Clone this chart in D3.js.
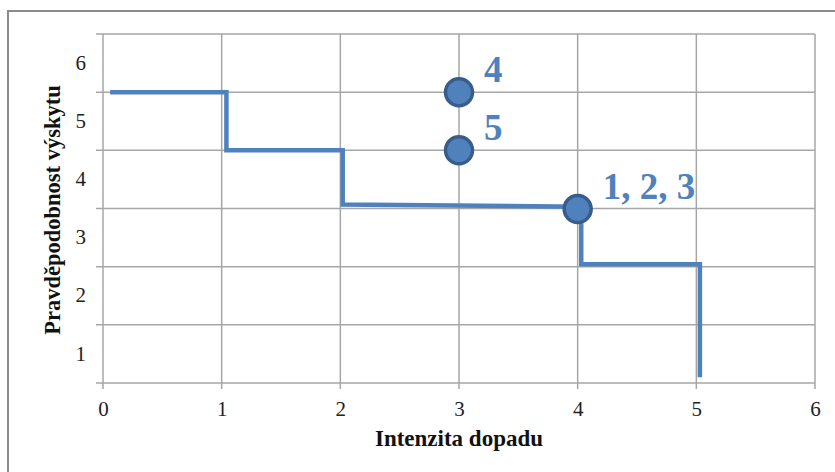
<!DOCTYPE html>
<html>
<head>
  <meta charset="utf-8">
  <script src="https://d3js.org/d3.v7.min.js"></script>
  <style>
    body { margin: 0; background: #fff; }
    text { font-family: "Liberation Serif", "Times New Roman", serif; }
  </style>
</head>
<body>
  <div id="chart"></div>
  <script>
    // data
    var xTicks = [0, 1, 2, 3, 4, 5, 6];
    var yLabels = ["1", "2", "3", "4", "5", "6"];
    var stepX = [0.06, 1.04, 1.04, 2.02, 2.02, 4.03, 4.03, 5.03, 5.03];
    var stepY = [5.0, 5.0, 4.0, 4.0, 3.07, 3.03, 2.04, 2.04, 0.1];
    var pointX = [3, 3, 4];
    var pointY = [5, 4, 2.99];
    var pointLabels = ["4", "5", "1, 2, 3"];

    var W = 835, H = 472;
    var svg = d3.select("#chart").append("svg")
      .attr("width", W)
      .attr("height", H);

    // outer chart border
    svg.append("rect")
      .attr("x", 8).attr("y", 11)
      .attr("width", W + 20).attr("height", H + 20)
      .attr("fill", "none")
      .attr("stroke", "#8c8c8c")
      .attr("stroke-width", 2);

    var x = d3.scaleLinear().domain([0, 6]).range([103, 815]);
    var y = d3.scaleLinear().domain([0, 6]).range([383, 34]);
    var yBand = d3.scaleBand().domain(yLabels).range([y(0), y(6)]);

    // gridlines
    svg.append("g").selectAll("line")
      .data(d3.range(0, 7))
      .enter().append("line")
      .attr("x1", x(0) - 7).attr("x2", x(6))
      .attr("y1", function(d) { return y(d); })
      .attr("y2", function(d) { return y(d); })
      .attr("stroke", "#a6a6a6")
      .attr("stroke-width", 1.5);

    svg.append("g").selectAll("line")
      .data(xTicks)
      .enter().append("line")
      .attr("x1", function(d) { return x(d); })
      .attr("x2", function(d) { return x(d); })
      .attr("y1", y(6)).attr("y2", y(0) + 6)
      .attr("stroke", "#a6a6a6")
      .attr("stroke-width", 1.5);

    // axes (labels only)
    var xAxis = svg.append("g")
      .attr("transform", "translate(0," + (y(0) + 9) + ")")
      .call(d3.axisBottom(x).tickValues(xTicks).tickFormat(d3.format("d")).tickSize(0).tickPadding(9));
    var yAxis = svg.append("g")
      .attr("transform", "translate(" + (x(0) - 17) + ",0)")
      .call(d3.axisLeft(yBand).tickSize(0).tickPadding(0));
    [xAxis, yAxis].forEach(function(a) {
      a.attr("font-family", "'Liberation Serif', serif");
      a.select(".domain").remove();
      a.selectAll("text")
        .attr("font-size", 21)
        .attr("fill", "#222");
    });

    // step line
    var stepData = stepX.map(function(v, i) { return [v, stepY[i]]; });
    svg.append("path")
      .datum(stepData)
      .attr("fill", "none")
      .attr("stroke", "#4f81bd")
      .attr("stroke-width", 4.5)
      .attr("d", d3.line()
        .x(function(d) { return x(d[0]); })
        .y(function(d) { return y(d[1]); }));

    // points
    var pts = pointX.map(function(v, i) { return { x: v, y: pointY[i], label: pointLabels[i] }; });
    svg.append("g").selectAll("circle")
      .data(pts)
      .enter().append("circle")
      .attr("cx", function(d) { return x(d.x); })
      .attr("cy", function(d) { return y(d.y); })
      .attr("r", 13.5)
      .attr("fill", "#4f81bd")
      .attr("stroke", "#385d8a")
      .attr("stroke-width", 3.5);

    svg.append("g").selectAll("text")
      .data(pts)
      .enter().append("text")
      .attr("x", function(d) { return x(d.x) + 25; })
      .attr("y", function(d) { return y(d.y) - 10; })
      .attr("font-size", 37)
      .attr("font-weight", "bold")
      .attr("fill", "#4f81bd")
      .text(function(d) { return d.label; });

    // axis titles
    svg.append("text")
      .attr("x", 459)
      .attr("y", 446)
      .attr("text-anchor", "middle")
      .attr("font-size", 23)
      .attr("font-weight", "bold")
      .attr("fill", "#111")
      .text("Intenzita dopadu");

    svg.append("text")
      .attr("transform", "rotate(-90)")
      .attr("x", -210)
      .attr("y", 60)
      .attr("text-anchor", "middle")
      .attr("font-size", 22.5)
      .attr("font-weight", "bold")
      .attr("fill", "#111")
      .text("Pravděpodobnost výskytu");
  </script>
</body>
</html>
